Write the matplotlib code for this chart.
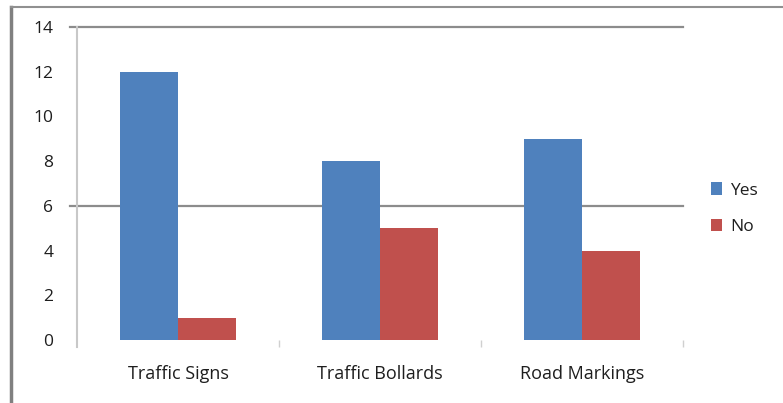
import matplotlib
matplotlib.use("Agg")
import matplotlib.pyplot as plt
import numpy as np
from matplotlib.lines import Line2D

# =====================================================
# Data
# =====================================================

categories = ["Traffic Signs", "Traffic Bollards", "Road Markings"]

yes_counts = [12, 8, 9]

no_counts = [1, 5, 4]

y_ticks = [0, 2, 4, 6, 8, 10, 12, 14]

visible_grid = [6, 14]

BLUE = "#4F81BD"
RED = "#C0504D"
GRID = "#8C8C8C"
TEXT = "#1E1E1E"

plt.rcParams["font.family"] = ["Open Sans", "DejaVu Sans"]

# =====================================================
# Figure
# =====================================================

fig = plt.figure(figsize=(7.83, 4.03), dpi=100)

ax = fig.add_axes([0.0983, 0.1563, 0.7740, 0.7767])

x = np.arange(len(categories))
bar_w = 1 / 3.5

ax.bar(x - bar_w / 2, yes_counts, width=bar_w, color=BLUE, label="Yes")
ax.bar(x + bar_w / 2, no_counts, width=bar_w, color=RED, label="No")

ax.set_xlim(-0.5, len(categories) - 0.5)
ax.set_ylim(0, 14)

for g in visible_grid:
    ax.axhline(g, xmin=-0.012, xmax=1, color=GRID, lw=1.6,
               clip_on=False, zorder=0)

ax.set_yticks(y_ticks)
ax.tick_params(axis="y", length=0, pad=17, labelsize=12.5, labelcolor=TEXT)

ax.set_xticks(x)
ax.set_xticklabels(categories)
ax.tick_params(axis="x", length=0, pad=18, labelsize=13, labelcolor=TEXT)

ax.set_xticks(np.arange(len(categories)) + 0.5, minor=True)
ax.tick_params(axis="x", which="minor", length=5, width=1, color="#D0D0D0")

for side in ["top", "right", "bottom"]:
    ax.spines[side].set_visible(False)
ax.spines["left"].set_color("#C8C8C8")
ax.spines["left"].set_linewidth(1.5)
ax.spines["left"].set_bounds(-0.3, 14)

leg = ax.legend(loc="center left", bbox_to_anchor=(1.02, 0.42),
                frameon=False, fontsize=12.5, handlelength=0.65,
                handleheight=0.7, handletextpad=0.45, labelspacing=1.15)
for t in leg.get_texts():
    t.set_color(TEXT)

# =====================================================
# Outer chart frame
# =====================================================

fig.add_artist(Line2D([0.014, 0.014], [0, 0.983], transform=fig.transFigure,
                      color="#808080", lw=2.5))
fig.add_artist(Line2D([0.014, 1.0], [0.983, 0.983], transform=fig.transFigure,
                      color="#909090", lw=1.5))

fig.savefig("out.png", dpi=100)
